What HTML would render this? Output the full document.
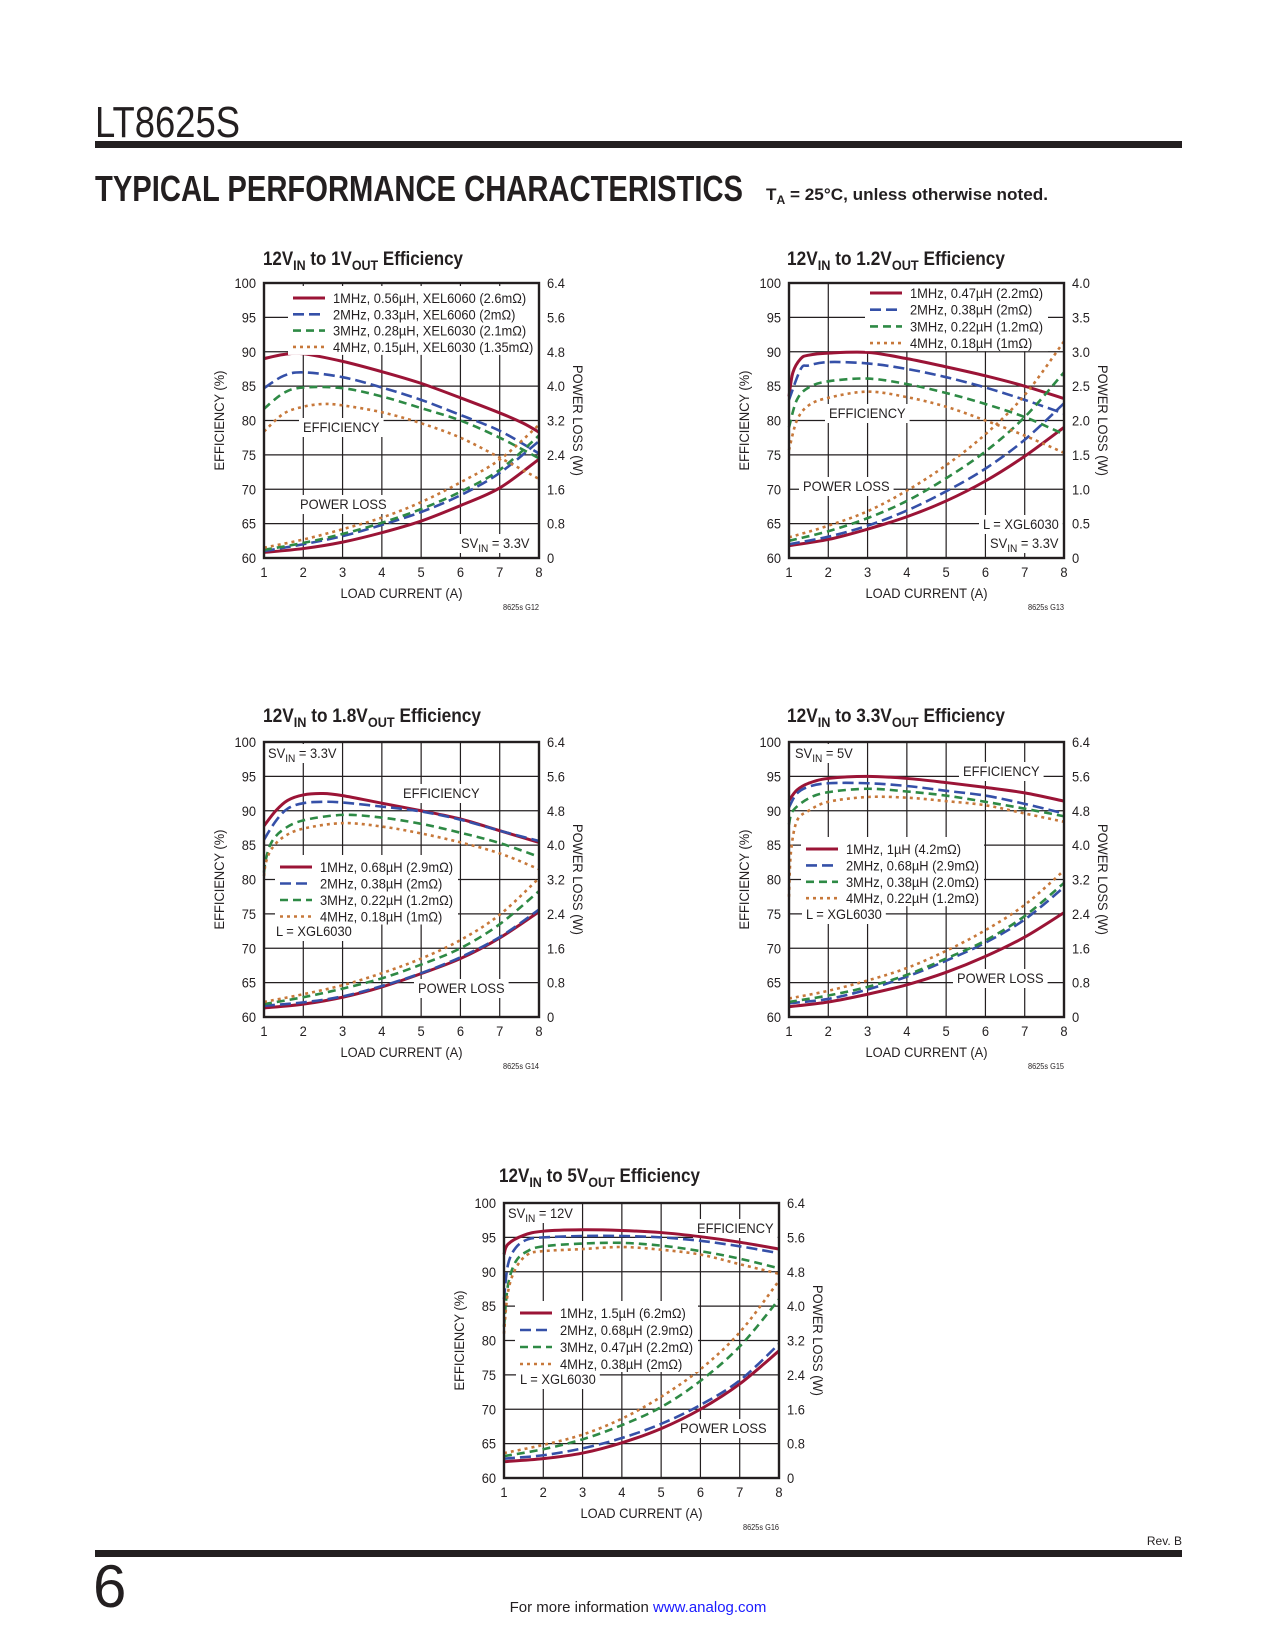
<!DOCTYPE html>
<html><head><meta charset="utf-8"><title>LT8625S Typical Performance Characteristics</title>
<style>
html,body{margin:0;padding:0;background:#fff;}
svg{display:block;font-family:"Liberation Sans",Arial,sans-serif;}
</style></head>
<body>
<svg id="page" width="1275" height="1650" viewBox="0 0 1275 1650" xmlns="http://www.w3.org/2000/svg">
<text x="95" y="137" font-size="44" fill="#231f20" textLength="145" lengthAdjust="spacingAndGlyphs">LT8625S</text>
<rect x="95" y="141" width="1087" height="7" fill="#231f20"/>
<text x="95" y="201" font-size="36" font-weight="bold" fill="#231f20" textLength="648" lengthAdjust="spacingAndGlyphs">TYPICAL PERFORMANCE CHARACTERISTICS</text>
<text x="766" y="200" font-size="17" font-weight="bold" fill="#231f20" textLength="282" lengthAdjust="spacingAndGlyphs">T<tspan font-size="12" dy="4">A</tspan><tspan dy="-4"> = 25°C, unless otherwise noted.</tspan></text>
<text x="1182" y="1545" font-size="12" fill="#231f20" text-anchor="end">Rev. B</text>
<rect x="95" y="1550" width="1087" height="7" fill="#231f20"/>
<text x="93" y="1607" font-size="60" fill="#231f20">6</text>
<text x="638" y="1612" font-size="15" fill="#231f20" text-anchor="middle">For more information <tspan fill="#1a1aff">www.analog.com</tspan></text>
<g id="charts"></g>
</svg>
<script>
// ---------- Chart data ----------
const xTicks = [1,2,3,4,5,6,7,8];
const effTicks = [60,65,70,75,80,85,90,95,100];
const lossTicks64 = ["0","0.8","1.6","2.4","3.2","4.0","4.8","5.6","6.4"];
const lossTicks40 = ["0","0.5","1.0","1.5","2.0","2.5","3.0","3.5","4.0"];
const lossX = [1,2,3,4,5,6,7,8];

// Chart G12: 12VIN to 1VOUT
const g12EffX = [[1,1.5,2,3,4,5,6,7,7.6,8],[1,1.5,2,3,4,5,6,7,8],[1,1.5,2,3,4,5,6,7,8],[1,1.5,2,2.5,3,4,5,6,7,8]];
const g12EffY = [[89,89.6,89.7,88.6,87.1,85.4,83.3,81.1,79.6,78.3],[84.7,86.5,87.0,86.3,84.8,83,80.8,78.5,75.2],[81.7,84,84.8,84.7,83.5,81.8,80,77.5,74.5],[78.4,81,82,82.4,82.2,81.2,79.6,77.5,74.6,71.5]];
const g12Loss = [[0.13,0.22,0.37,0.59,0.86,1.22,1.63,2.3],[0.16,0.32,0.51,0.77,1.07,1.46,1.98,2.72],[0.19,0.35,0.56,0.82,1.14,1.54,2.05,2.85],[0.24,0.43,0.67,0.94,1.30,1.76,2.29,3.10]];
// Chart G13: 12VIN to 1.2VOUT
const g13EffX = [[1,1.1,1.3,1.5,2,3,4,5,6,7,8],[1,1.3,1.5,2,3,4,5,6,7,8],[1,1.2,1.5,2,3,4,5,6,7,8],[1,1.2,1.5,2,3,4,5,6,7,8]];
const g13EffY = [[83.5,87,89,89.5,89.8,89.9,89,87.8,86.5,85,83.2],[83,87.5,88,88.5,88.3,87.5,86.3,84.8,83,81],[79,83,84.8,85.7,86.1,85.3,84,82.4,80.5,78],[75.7,80,82.2,83.3,84.2,83.4,82,80,77.8,75.3]];
const g13Loss = [[0.18,0.27,0.42,0.6,0.83,1.12,1.48,1.9],[0.2,0.31,0.47,0.69,0.97,1.3,1.72,2.25],[0.25,0.39,0.58,0.83,1.16,1.55,2.05,2.7],[0.3,0.47,0.68,0.98,1.35,1.8,2.37,3.15]];
// Chart G14: 12VIN to 1.8VOUT
const g14EffX = [[1,1.3,1.6,2,2.5,3,4,5,6,7,8],[1,1.3,1.6,2,2.5,3,4,5,6,7,8],[1,1.05,1.2,1.5,2,3,4,5,6,7,8],[1,1.05,1.2,1.5,2,3,4,5,6,7,8]];
const g14EffY = [[87.8,90,91.5,92.3,92.5,92.2,91.1,90,88.8,87.1,85.4],[85.8,88.5,90.3,91.1,91.3,91.2,90.6,89.9,88.7,87.1,85.6],[81,83,85.5,87.3,88.6,89.4,89,88.1,86.8,85.3,83.3],[80.5,82.5,84.5,86.2,87.4,88.2,87.7,86.7,85.4,83.8,81.5]];
const g14Loss = [[0.21,0.30,0.46,0.70,1.01,1.36,1.84,2.45],[0.26,0.34,0.48,0.72,1.02,1.39,1.86,2.50],[0.30,0.46,0.66,0.90,1.22,1.60,2.16,2.93],[0.35,0.53,0.74,1.02,1.36,1.79,2.38,3.23]];
// Chart G15: 12VIN to 3.3VOUT
const g15EffX = [[1,1.2,1.5,2,3,4,5,6,7,8],[1,1.2,1.5,2,3,4,5,6,7,8],[1,1.1,1.5,2,3,4,5,6,7,8],[1,1.05,1.2,1.5,2,3,4,5,6,7,8]];
const g15EffY = [[91.5,93,94,94.7,95,94.7,94.1,93.4,92.6,91.4],[90.5,92.5,93.5,94,94,93.6,92.9,92.2,91,89.6],[88,90,91.8,92.7,93.2,92.8,92.2,91.3,90.3,89.2],[77.5,84,88.5,90,91.3,92,91.9,91.4,90.8,89.6,88.4]];
const g15Loss = [[0.24,0.35,0.53,0.75,1.04,1.41,1.86,2.43],[0.32,0.42,0.64,0.94,1.31,1.73,2.27,3.02],[0.35,0.50,0.70,0.98,1.36,1.78,2.35,3.12],[0.43,0.61,0.85,1.14,1.54,2.02,2.61,3.41]];
// Chart G16: 12VIN to 5VOUT
const g16EffX = [[1,1.1,1.5,2,3,4,5,6,7,8],[1,1.1,1.3,1.6,2,3,4,5,6,7,8],[1,1.1,1.3,1.6,2,3,4,5,6,7,8],[1,1.1,1.3,1.6,2,3,4,5,6,7,8]];
const g16EffY = [[92.5,94,95.3,95.9,96.1,96,95.7,95.1,94.3,93.3],[86,91,93.5,94.7,95,95.2,95.2,95,94.5,93.7,92.7],[82,88,91.5,93,93.7,94.1,94.2,93.8,93,91.9,90.5],[81,87,90.5,92.5,93,93.3,93.6,93.2,92.5,91.1,89.7]];
const g16Loss = [[0.38,0.45,0.58,0.82,1.15,1.60,2.19,2.96],[0.45,0.53,0.69,0.93,1.26,1.70,2.27,3.12],[0.51,0.67,0.90,1.23,1.65,2.26,3.06,4.16],[0.58,0.77,1.01,1.38,1.89,2.53,3.39,4.59]];

const NS = "http://www.w3.org/2000/svg";
const COLORS = ["#9b1436","#3550a8","#2e8a45","#c7783a"];
const DASH = [null,"11,5","8,5","3,4"];
const WIDTH = [3,2.6,2.6,2.6];
const CONDENSE = 0.92;

function mk(tag, attrs, parent){
  const e = document.createElementNS(NS, tag);
  for (const k in attrs) e.setAttribute(k, attrs[k]);
  if (parent) parent.appendChild(e);
  return e;
}
// returns condensed width
function condense(t){
  const w = t.getComputedTextLength();
  if (w > 0){
    t.setAttribute("textLength", (w*CONDENSE).toFixed(1));
    t.setAttribute("lengthAdjust", "spacingAndGlyphs");
  }
  return w*CONDENSE;
}
function txt(parent, x, y, s, size, extra){
  const t = mk("text", Object.assign({x:x, y:y, "font-size":size, fill:"#231f20"}, extra||{}), parent);
  t.textContent = s;
  t._w = condense(t);
  return t;
}
function smoothPath(pts){
  let d = "M" + pts[0][0].toFixed(2) + "," + pts[0][1].toFixed(2);
  for (let i=0;i<pts.length-1;i++){
    const p0 = pts[Math.max(0,i-1)], p1 = pts[i], p2 = pts[i+1], p3 = pts[Math.min(pts.length-1,i+2)];
    const c1x = p1[0]+(p2[0]-p0[0])/6, c1y = p1[1]+(p2[1]-p0[1])/6;
    const c2x = p2[0]-(p3[0]-p1[0])/6, c2y = p2[1]-(p3[1]-p1[1])/6;
    d += " C"+c1x.toFixed(2)+","+c1y.toFixed(2)+" "+c2x.toFixed(2)+","+c2y.toFixed(2)+" "+p2[0].toFixed(2)+","+p2[1].toFixed(2);
  }
  return d;
}

function chart(cfg){
  const root = document.getElementById("charts");
  const g = mk("g", {}, root);
  
  
  const L = cfg.left, T = cfg.top, W = 275, H = 275;
  const xs = v => L + (v-1)/7*W;
  const ye = v => T + H - (v-60)/40*H;
  const yl = v => T + H - v/cfg.lossMax*H;

  const title = mk("text", {x:cfg.titleX, y:cfg.titleY, "font-size":19, "font-weight":"bold", fill:"#231f20", textLength:cfg.titleLen, lengthAdjust:"spacingAndGlyphs"}, g);
  
  
  title.innerHTML = cfg.title;

  const grid = mk("g", {stroke:"#231f20", "stroke-width":1.2}, g);
  
  
  for (let i=1;i<xTicks.length-1;i++) mk("line", {x1:xs(xTicks[i]), x2:xs(xTicks[i]), y1:T, y2:T+H}, grid);
  for (let i=1;i<effTicks.length-1;i++) mk("line", {x1:L, x2:L+W, y1:ye(effTicks[i]), y2:ye(effTicks[i])}, grid);

  const tl = mk("g", {}, g);
  
  
  xTicks.forEach(v => txt(tl, xs(v), T+H+19, String(v), 14, {"text-anchor":"middle"}));
  const ylab = mk("g", {}, g);
  
  
  effTicks.forEach(v => txt(ylab, L-8, ye(v)+5, String(v), 14, {"text-anchor":"end"}));
  const rlab = mk("g", {}, g);
  
  
  cfg.lossTicks.forEach((s,i) => txt(rlab, L+W+8, T+H-i*H/8+5, s, 14));

  const xt = txt(g, L+W/2, T+H+40, "LOAD CURRENT (A)", 14, {"text-anchor":"middle"});
  
  
  const yt = txt(g, 0, 0, "EFFICIENCY (%)", 14, {"text-anchor":"middle", transform:"translate("+(L-40)+","+(T+H/2)+") rotate(-90)"});
  
  
  const y2t = txt(g, 0, 0, "POWER LOSS (W)", 14, {"text-anchor":"middle", transform:"translate("+(L+W+34)+","+(T+H/2)+") rotate(90)"});
  
  
  const id = txt(g, L+W, T+H+52, cfg.id, 8, {"text-anchor":"end"});
  
  

  cfg.notes.forEach(n => {
    const a = mk("g", {}, g);
    
    
    const r = mk("rect", {x:n.x-4, y:n.y-14, width:10, height:19, fill:"#fff"}, a);
    const t = mk("text", {x:n.x, y:n.y, "font-size":14, fill:"#231f20"}, a);
    t.innerHTML = n.t;
    const w = condense(t);
    r.setAttribute("width", (w + 8).toFixed(1));
  });

  const ser = mk("g", {fill:"none", "stroke-linecap":"butt"}, g);
  
  
  for (let s=0;s<4;s++){
    const ep = cfg.effX[s].map((x,i) => [xs(x), ye(cfg.effY[s][i])]);
    const p = mk("path", {d:smoothPath(ep), stroke:COLORS[s], "stroke-width":WIDTH[s]}, ser);
    if (DASH[s]) p.setAttribute("stroke-dasharray", DASH[s]);
    
    
    const lp = lossX.map((x,i) => [xs(x), yl(cfg.loss[s][i])]);
    const q = mk("path", {d:smoothPath(lp), stroke:COLORS[s], "stroke-width":WIDTH[s]}, ser);
    if (DASH[s]) q.setAttribute("stroke-dasharray", DASH[s]);
    
    
  }

  const lg = mk("g", {}, g);
  
  
  const bg = mk("rect", {x:cfg.leg.x-5, y:cfg.leg.y-12, width:cfg.leg.w, height:cfg.leg.dy*3+20, fill:"#fff"}, lg);
  let maxW = 0;
  cfg.legText.forEach((s,i) => {
    const e = mk("g", {}, lg);
    
    
    const y = cfg.leg.y + i*cfg.leg.dy;
    const ln = mk("line", {x1:cfg.leg.x, x2:cfg.leg.x+32, y1:y, y2:y, stroke:COLORS[i], "stroke-width":WIDTH[i]}, e);
    if (DASH[i]) ln.setAttribute("stroke-dasharray", DASH[i]);
    const t = txt(e, cfg.leg.x+40, y+5, s, 14);
    maxW = Math.max(maxW, t._w);
  });
  bg.setAttribute("width", Math.min(maxW + 50, L+W-cfg.leg.x+4).toFixed(1));

  const fr = mk("rect", {x:L, y:T, width:W, height:H, fill:"none", stroke:"#231f20", "stroke-width":2.4}, g);
  
  
}

const SUB = (a) => '<tspan font-size="14" dy="5">'+a+'</tspan><tspan dy="-5">';
const freqs = ["1mhz","2mhz","3mhz","4mhz"];
const SVIN = v => 'SV<tspan font-size="11" dy="4">IN</tspan><tspan dy="-4"> = '+v+'</tspan>';

chart({name:"chart-1vout-efficiency", left:264, top:283, lossMax:6.4, lossTicks:lossTicks64, id:"8625s G12",
  title:'12V'+SUB('IN')+' to 1V</tspan>'+SUB('OUT')+' Efficiency</tspan>', titleX:263, titleY:265, titleLen:200,
  effX:g12EffX, effY:g12EffY, loss:g12Loss, freqs:freqs,
  legText:["1MHz, 0.56µH, XEL6060 (2.6mΩ)","2MHz, 0.33µH, XEL6060 (2mΩ)","3MHz, 0.28µH, XEL6030 (2.1mΩ)","4MHz, 0.15µH, XEL6030 (1.35mΩ)"],
  leg:{x:293, y:298, dy:16.3, w:246},
  notes:[{name:"efficiency-label",x:303,y:432,t:"EFFICIENCY"},{name:"power-loss-label",x:300,y:509,t:"POWER LOSS"},{name:"svin-label",x:461,y:548,t:SVIN("3.3V")}]});

chart({name:"chart-1p2vout-efficiency", left:789, top:283, lossMax:4.0, lossTicks:lossTicks40, id:"8625s G13",
  title:'12V'+SUB('IN')+' to 1.2V</tspan>'+SUB('OUT')+' Efficiency</tspan>', titleX:787, titleY:265, titleLen:218,
  effX:g13EffX, effY:g13EffY, loss:g13Loss, freqs:freqs,
  legText:["1MHz, 0.47µH (2.2mΩ)","2MHz, 0.38µH (2mΩ)","3MHz, 0.22µH (1.2mΩ)","4MHz, 0.18µH (1mΩ)"],
  leg:{x:870, y:293, dy:16.7, w:184},
  notes:[{name:"efficiency-label",x:829,y:418,t:"EFFICIENCY"},{name:"power-loss-label",x:803,y:491,t:"POWER LOSS"},{name:"inductor-label",x:983,y:529,t:"L = XGL6030"},{name:"svin-label",x:990,y:548,t:SVIN("3.3V")}]});

chart({name:"chart-1p8vout-efficiency", left:264, top:742, lossMax:6.4, lossTicks:lossTicks64, id:"8625s G14",
  title:'12V'+SUB('IN')+' to 1.8V</tspan>'+SUB('OUT')+' Efficiency</tspan>', titleX:263, titleY:722, titleLen:218,
  effX:g14EffX, effY:g14EffY, loss:g14Loss, freqs:freqs,
  legText:["1MHz, 0.68µH (2.9mΩ)","2MHz, 0.38µH (2mΩ)","3MHz, 0.22µH (1.2mΩ)","4MHz, 0.18µH (1mΩ)"],
  leg:{x:280, y:867, dy:16.5, w:182},
  notes:[{name:"svin-label",x:268,y:758,t:SVIN("3.3V")},{name:"efficiency-label",x:403,y:798,t:"EFFICIENCY"},{name:"inductor-label",x:276,y:936,t:"L = XGL6030"},{name:"power-loss-label",x:418,y:993,t:"POWER LOSS"}]});

chart({name:"chart-3p3vout-efficiency", left:789, top:742, lossMax:6.4, lossTicks:lossTicks64, id:"8625s G15",
  title:'12V'+SUB('IN')+' to 3.3V</tspan>'+SUB('OUT')+' Efficiency</tspan>', titleX:787, titleY:722, titleLen:218,
  effX:g15EffX, effY:g15EffY, loss:g15Loss, freqs:freqs,
  legText:["1MHz, 1µH (4.2mΩ)","2MHz, 0.68µH (2.9mΩ)","3MHz, 0.38µH (2.0mΩ)","4MHz, 0.22µH (1.2mΩ)"],
  leg:{x:806, y:849, dy:16.4, w:182},
  notes:[{name:"svin-label",x:795,y:758,t:SVIN("5V")},{name:"efficiency-label",x:963,y:776,t:"EFFICIENCY"},{name:"inductor-label",x:806,y:919,t:"L = XGL6030"},{name:"power-loss-label",x:957,y:983,t:"POWER LOSS"}]});

chart({name:"chart-5vout-efficiency", left:504, top:1203, lossMax:6.4, lossTicks:lossTicks64, id:"8625s G16",
  title:'12V'+SUB('IN')+' to 5V</tspan>'+SUB('OUT')+' Efficiency</tspan>', titleX:499, titleY:1182, titleLen:201,
  effX:g16EffX, effY:g16EffY, loss:g16Loss, freqs:freqs,
  legText:["1MHz, 1.5µH (6.2mΩ)","2MHz, 0.68µH (2.9mΩ)","3MHz, 0.47µH (2.2mΩ)","4MHz, 0.38µH (2mΩ)"],
  leg:{x:520, y:1313, dy:17, w:180},
  notes:[{name:"svin-label",x:508,y:1218,t:SVIN("12V")},{name:"efficiency-label",x:697,y:1233,t:"EFFICIENCY"},{name:"inductor-label",x:520,y:1384,t:"L = XGL6030"},{name:"power-loss-label",x:680,y:1433,t:"POWER LOSS"}]});
</script>
</body></html>
